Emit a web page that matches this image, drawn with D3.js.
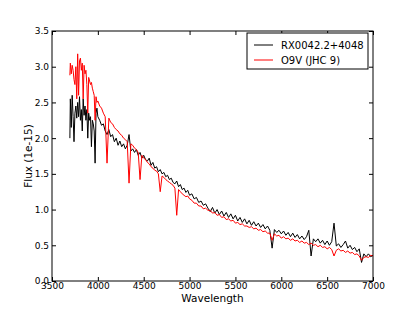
<!DOCTYPE html>
<html>
<head>
<meta charset="utf-8">
<script src="https://cdn.jsdelivr.net/npm/d3@7"></script>
<style>
  body { margin: 0; background: #fff; }
  svg { display: block; font-family: "DejaVu Sans", sans-serif; }
</style>
</head>
<body>
<script>
// wavelength grid (Angstrom), shared by both spectra
var wave = [
  3695, 3700, 3710, 3720, 3730, 3740, 3750, 3760, 3770, 3780,
  3790, 3800, 3810, 3820, 3830, 3840, 3850, 3860, 3870, 3880,
  3890, 3900, 3910, 3920, 3930, 3940, 3950, 3960, 3970, 3980,
  3990, 4000, 4020, 4040, 4060, 4080, 4100, 4120, 4140, 4160,
  4180, 4200, 4220, 4240, 4260, 4280, 4300, 4320, 4340, 4360,
  4380, 4400, 4420, 4440, 4460, 4480, 4500, 4520, 4540, 4560,
  4580, 4600, 4620, 4640, 4660, 4680, 4700, 4720, 4740, 4760,
  4780, 4800, 4820, 4840, 4860, 4880, 4900, 4920, 4940, 4960,
  4980, 5000, 5025, 5050, 5075, 5100, 5125, 5150, 5175, 5200,
  5225, 5250, 5275, 5300, 5325, 5350, 5375, 5400, 5425, 5450,
  5475, 5500, 5525, 5550, 5575, 5600, 5625, 5650, 5675, 5700,
  5725, 5750, 5775, 5800, 5825, 5850, 5875, 5900, 5925, 5950,
  5975, 6000, 6025, 6050, 6075, 6100, 6125, 6150, 6175, 6200,
  6225, 6250, 6275, 6300, 6325, 6350, 6375, 6400, 6425, 6450,
  6475, 6500, 6525, 6550, 6575, 6600, 6625, 6650, 6675, 6700,
  6725, 6750, 6775, 6800, 6825, 6850, 6875, 6900, 6925, 6950,
  6975, 7000
];

// RX0042.2+4048 flux (1e-15)
var rxFlux = [
  2.00, 2.55, 2.15, 2.60, 2.30, 1.95, 2.35, 2.45, 2.28, 2.50,
  2.30, 2.58, 2.25, 2.40, 2.10, 2.55, 2.32, 2.45, 2.25, 2.40,
  2.00, 2.35, 2.25, 2.30, 1.88, 2.25, 2.20, 2.10, 1.65, 2.35,
  2.42, 2.30, 2.25, 2.18, 2.20, 2.10, 2.05, 2.12, 2.02, 2.05,
  1.95, 2.00, 1.90, 1.96, 1.88, 1.92, 1.85, 1.90, 2.05, 1.82,
  1.85, 1.80, 1.84, 1.76, 1.80, 1.72, 1.76, 1.70, 1.68, 1.72,
  1.62, 1.66, 1.58, 1.60, 1.53, 1.56, 1.50, 1.52, 1.46, 1.48,
  1.42, 1.44, 1.38, 1.36, 1.40, 1.32, 1.35, 1.28, 1.30, 1.24,
  1.27, 1.20, 1.22, 1.15, 1.17, 1.10, 1.12, 1.06, 1.08, 1.02,
  0.97, 1.03, 0.95, 1.00, 0.93, 0.98, 0.91, 0.96, 0.89, 0.94,
  0.87, 0.92, 0.84, 0.89, 0.82, 0.87, 0.80, 0.85, 0.78, 0.83,
  0.77, 0.81, 0.75, 0.79, 0.73, 0.77, 0.71, 0.46, 0.72, 0.68,
  0.71, 0.66, 0.70, 0.64, 0.68, 0.62, 0.67, 0.61, 0.65, 0.59,
  0.63, 0.58, 0.62, 0.71, 0.35, 0.59, 0.55, 0.59, 0.53, 0.57,
  0.51, 0.56, 0.50, 0.55, 0.81, 0.49, 0.52, 0.47, 0.51, 0.56,
  0.46, 0.50, 0.44, 0.47, 0.41, 0.45, 0.26, 0.38, 0.34, 0.38,
  0.34, 0.36
];

// O9V (JHC 9) template flux
var o9vFlux = [
  2.88, 3.05, 2.90, 3.02, 2.95, 2.82, 2.75, 3.00, 2.55, 3.18,
  2.60, 3.08, 3.12, 2.95, 3.05, 2.55, 3.02, 2.90, 2.95, 2.75,
  2.35, 2.85, 2.80, 2.75, 2.78, 2.70, 2.65, 2.60, 2.25, 2.58,
  2.50, 2.52, 2.45, 2.42, 2.35, 2.30, 1.65, 2.28, 2.22, 2.20,
  2.15, 2.12, 2.10, 2.06, 2.04, 2.00, 1.98, 1.95, 1.37, 1.92,
  1.90, 1.86, 1.84, 1.80, 1.42, 1.76, 1.72, 1.70, 1.66, 1.64,
  1.60, 1.58, 1.55, 1.54, 1.50, 1.25, 1.47, 1.45, 1.42, 1.40,
  1.38, 1.36, 1.34, 1.30, 0.92, 1.28, 1.25, 1.22, 1.20, 1.18,
  1.19, 1.15, 1.13, 1.09, 1.09, 1.05, 1.05, 1.01, 1.02, 0.99,
  0.99, 0.95, 0.96, 0.92, 0.93, 0.89, 0.90, 0.86, 0.87, 0.84,
  0.85, 0.81, 0.82, 0.79, 0.80, 0.77, 0.77, 0.75, 0.76, 0.73,
  0.74, 0.71, 0.72, 0.69, 0.70, 0.67, 0.67, 0.57, 0.66, 0.63,
  0.64, 0.60, 0.62, 0.59, 0.60, 0.57, 0.59, 0.56, 0.57, 0.54,
  0.56, 0.53, 0.54, 0.51, 0.53, 0.50, 0.51, 0.48, 0.50, 0.47,
  0.48, 0.45, 0.47, 0.44, 0.35, 0.43, 0.45, 0.42, 0.43, 0.40,
  0.42, 0.39, 0.40, 0.37, 0.38, 0.35, 0.29, 0.33, 0.34, 0.33,
  0.36, 0.35
];

var seriesNames = ["RX0042.2+4048", "O9V (JHC 9)"];
var seriesColors = ["#000000", "#ff0000"];
var xTicks = [3500, 4000, 4500, 5000, 5500, 6000, 6500, 7000];
var yTicks = [0.0, 0.5, 1.0, 1.5, 2.0, 2.5, 3.0, 3.5];

var width = 415, height = 312;
var margin = {top: 31, right: 42, bottom: 31, left: 52};

var svg = d3.select("body").append("svg")
  .attr("width", width).attr("height", height);

var x = d3.scaleLinear().domain([3500, 7000]).range([margin.left, width - margin.right]);
var y = d3.scaleLinear().domain([0, 3.5]).range([height - margin.bottom, margin.top]);

// spectra
var line = d3.line()
  .x(function(d) { return x(d[0]); })
  .y(function(d) { return y(d[1]); });

[rxFlux, o9vFlux].forEach(function(flux, i) {
  svg.append("path")
    .datum(d3.zip(wave, flux))
    .attr("fill", "none")
    .attr("stroke", seriesColors[i])
    .attr("stroke-width", 1)
    .attr("stroke-linejoin", "round")
    .attr("d", line);
});

// axes, matplotlib style: inward ticks on all four sides
function styleAxis(g) {
  g.select(".domain").remove();
  g.selectAll(".tick line").attr("stroke", "#000");
  g.selectAll(".tick text").attr("fill", "#000").attr("font-size", "9px")
    .attr("font-family", "DejaVu Sans, sans-serif");
}

svg.append("g")
  .attr("transform", "translate(0," + y(0) + ")")
  .call(d3.axisBottom(x).tickValues(xTicks).tickSizeInner(-4).tickPadding(2).tickFormat(d3.format("d")))
  .call(styleAxis);

svg.append("g")
  .attr("transform", "translate(" + x(3500) + ",0)")
  .call(d3.axisLeft(y).tickValues(yTicks).tickSizeInner(-4).tickPadding(3).tickFormat(d3.format(".1f")))
  .call(styleAxis);

svg.append("g")
  .attr("transform", "translate(0," + y(3.5) + ")")
  .call(d3.axisTop(x).tickValues(xTicks).tickSizeInner(-4).tickFormat(""))
  .call(styleAxis);

svg.append("g")
  .attr("transform", "translate(" + x(7000) + ",0)")
  .call(d3.axisRight(y).tickValues(yTicks).tickSizeInner(-4).tickFormat(""))
  .call(styleAxis);

// frame
svg.append("rect")
  .attr("x", x(3500)).attr("y", y(3.5))
  .attr("width", x(7000) - x(3500)).attr("height", y(0) - y(3.5))
  .attr("fill", "none").attr("stroke", "#000").attr("stroke-width", 1);

// axis titles
svg.append("text")
  .attr("x", (x(3500) + x(7000)) / 2).attr("y", 302)
  .attr("text-anchor", "middle").attr("font-size", "10.5px")
  .text("Wavelength");

svg.append("text")
  .attr("transform", "translate(32," + (y(0) + y(3.5)) / 2 + ") rotate(-90)")
  .attr("text-anchor", "middle").attr("font-size", "10.5px")
  .text("Flux (1e-15)");

// legend
var legend = svg.append("g").attr("transform", "translate(247,33)");
legend.append("rect")
  .attr("width", 121).attr("height", 36)
  .attr("fill", "#fff").attr("stroke", "#000").attr("stroke-width", 1);
seriesNames.forEach(function(name, i) {
  var ly = 12 + i * 15;
  legend.append("line")
    .attr("x1", 7).attr("x2", 26).attr("y1", ly).attr("y2", ly)
    .attr("stroke", seriesColors[i]).attr("stroke-width", 1);
  legend.append("text")
    .attr("x", 34).attr("y", ly + 3.6)
    .attr("font-size", "10px")
    .text(name);
});
</script>
</body>
</html>
